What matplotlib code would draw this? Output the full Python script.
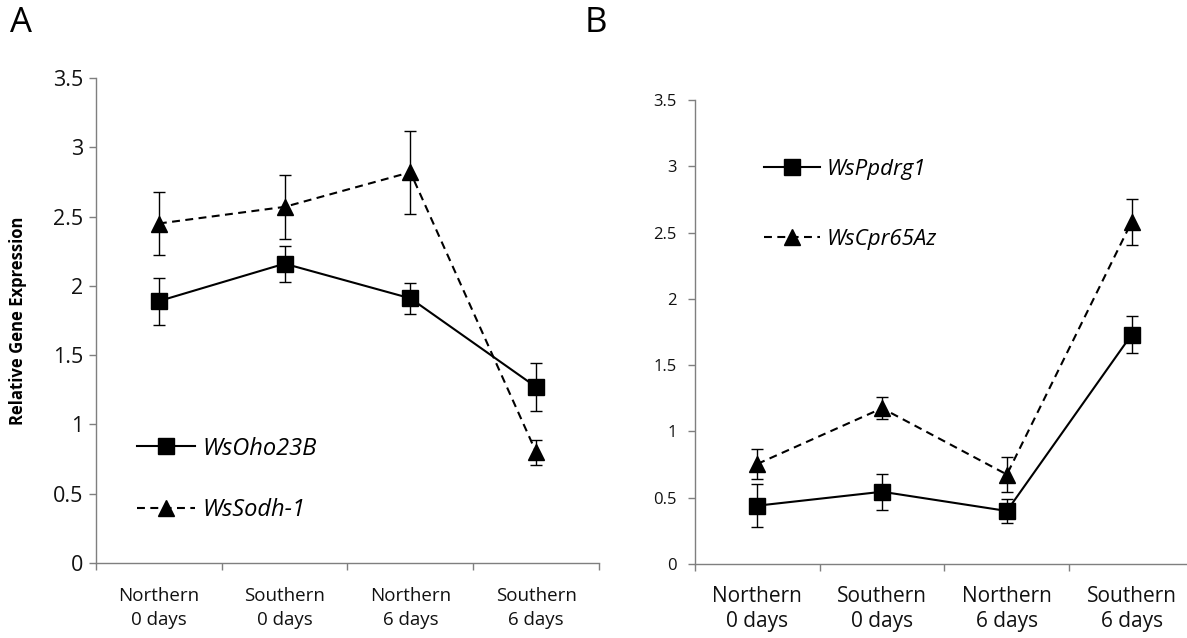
import matplotlib
matplotlib.use("Agg")
import matplotlib.pyplot as plt
import numpy as np

plt.rcParams['font.family'] = ['Open Sans', 'DejaVu Sans']

categories = ["Northern\n0 days", "Southern\n0 days", "Northern\n6 days", "Southern\n6 days"]

# Panel A
a_oho_mean = [1.89, 2.16, 1.91, 1.27]
a_oho_err = [0.17, 0.13, 0.11, 0.17]
a_sodh_mean = [2.45, 2.57, 2.82, 0.80]
a_sodh_err = [0.23, 0.23, 0.30, 0.09]

# Panel B
b_ppd_mean = [0.44, 0.545, 0.40, 1.73]
b_ppd_err = [0.16, 0.135, 0.09, 0.14]
b_cpr_mean = [0.755, 1.175, 0.675, 2.58]
b_cpr_err = [0.115, 0.085, 0.13, 0.17]

yticks = [0, 0.5, 1, 1.5, 2, 2.5, 3, 3.5]
ytick_labels = ["0", "0.5", "1", "1.5", "2", "2.5", "3", "3.5"]

W, H = 1187, 638
fig = plt.figure(figsize=(W / 100, H / 100), dpi=100)

axA = fig.add_axes([96 / W, (H - 563) / H, 503 / W, 485 / H])
axB = fig.add_axes([695 / W, (H - 564) / H, 499 / W, 464 / H])

spine_col = "#7f7f7f"
dash = (3.8, 2.6)


def style(ax, ytick_fs, xtick_fs, ypad, xpad, linesp):
    x = np.arange(len(categories)) + 0.5
    ax.set_xlim(0, len(categories))
    ax.set_ylim(0, 3.5)
    for s in ["top", "right"]:
        ax.spines[s].set_visible(False)
    for s in ["left", "bottom"]:
        ax.spines[s].set_color(spine_col)
        ax.spines[s].set_linewidth(1.0)
    ax.set_yticks(yticks)
    ax.set_yticklabels(ytick_labels, fontsize=ytick_fs)
    ax.set_xticks(np.arange(len(categories) + 1))
    ax.set_xticklabels([])
    ax.set_xticks(x, minor=True)
    ax.set_xticklabels(categories, minor=True, fontsize=xtick_fs, linespacing=linesp)
    ax.tick_params(axis="y", direction="out", length=5, width=1.0, color=spine_col, pad=ypad, labelcolor="#111111")
    ax.tick_params(axis="x", which="major", direction="out", length=5, width=1.0, color=spine_col)
    ax.tick_params(axis="x", which="minor", length=0, pad=xpad, labelcolor="#111111")
    return x


def plot_series(ax, x, mean, err, marker, ls, label):
    kw = dict(color="black", marker=marker, markersize=11.5, linewidth=1.5,
              ecolor="black", elinewidth=1.0, capsize=4, capthick=1.0, label=label)
    eb = ax.errorbar(x, mean, yerr=err, **kw)
    if ls == "dashed":
        eb.lines[0].set_dashes(dash)
    return eb


xA = style(axA, 15.5, 13.5, 4, 17, 1.45)
plot_series(axA, xA, a_oho_mean, a_oho_err, "s", "solid", "WsOho23B")
plot_series(axA, xA, a_sodh_mean, a_sodh_err, "^", "dashed", "WsSodh-1")
lA1 = plt.Line2D([], [], color="black", marker="s", markersize=11.5, linewidth=1.5)
lA2 = plt.Line2D([], [], color="black", marker="^", markersize=11.5, linewidth=1.5, dashes=dash)
axA.legend([lA1, lA2], ["WsOho23B", "WsSodh-1"], loc="center left",
           bbox_to_anchor=(137 / W, 1 - 479.5 / H), bbox_transform=fig.transFigure,
           frameon=False, prop={"style": "italic", "size": 17}, handlelength=2.45,
           handletextpad=0.3, labelspacing=1.6, borderpad=0, borderaxespad=0)

xB = style(axB, 12, 15, 8, 16, 1.25)
plot_series(axB, xB, b_ppd_mean, b_ppd_err, "s", "solid", "WsPpdrg1")
plot_series(axB, xB, b_cpr_mean, b_cpr_err, "^", "dashed", "WsCpr65Az")
lB1 = plt.Line2D([], [], color="black", marker="s", markersize=11.5, linewidth=1.5)
lB2 = plt.Line2D([], [], color="black", marker="^", markersize=11.5, linewidth=1.5, dashes=dash)
axB.legend([lB1, lB2], ["WsPpdrg1", "WsCpr65Az"], loc="center left",
           bbox_to_anchor=(764 / W, 1 - 204.5 / H), bbox_transform=fig.transFigure,
           frameon=False, prop={"style": "italic", "size": 16}, handlelength=2.5,
           handletextpad=0.3, labelspacing=2.2, borderpad=0, borderaxespad=0)

fig.text(18 / W, 1 - 321 / H, "Relative Gene Expression", rotation=90, fontsize=12,
         fontweight="bold", ha="center", va="center")
fig.text(21 / W, 1 - 23 / H, "A", fontsize=25, ha="center", va="center")
fig.text(596 / W, 1 - 23 / H, "B", fontsize=25, ha="center", va="center")

fig.savefig("out.png", dpi=100)
